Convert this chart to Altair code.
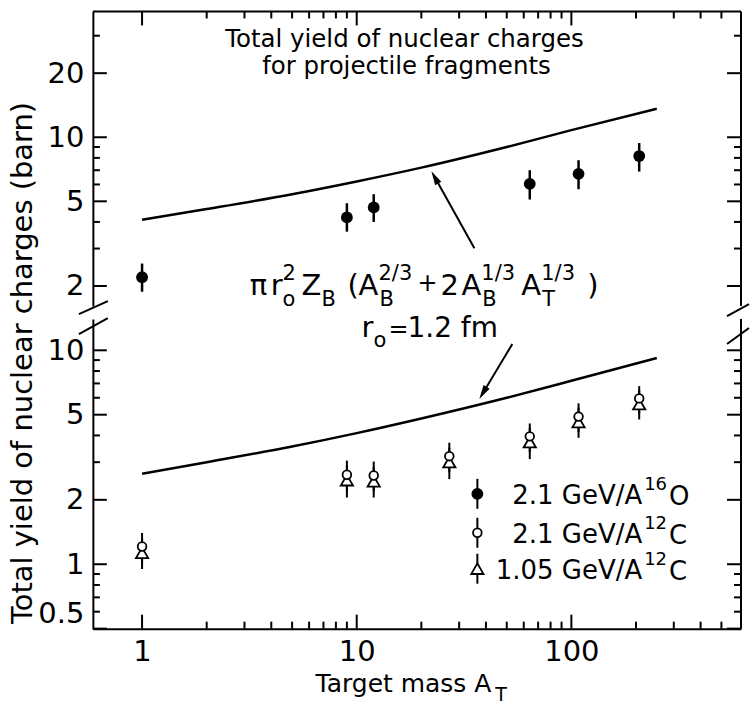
import altair as alt
import pandas as pd

FONT = "DejaVu Sans"

# ---------------- data ----------------
# 2.1 GeV/A 16O  (filled circles, upper panel)
at_16O = [1, 9, 12, 64, 108, 207]
y_16O = [2.2, 4.2, 4.68, 6.04, 6.73, 8.16]
lo_16O = [1.88, 3.6, 4.0, 5.1, 5.7, 6.9]
hi_16O = [2.55, 4.9, 5.4, 7.0, 7.8, 9.4]

# 12C targets (lower panel)
at_12C = [1, 9, 12, 27, 64, 108, 207]
# 2.1 GeV/A 12C (open circles)
y_12C_21 = [1.21, 2.62, 2.6, 3.2, 3.96, 4.9, 5.96]
lo_12C_21 = [1.0, 2.2, 2.2, 2.7, 3.35, 4.15, 5.05]
hi_12C_21 = [1.4, 3.05, 3.02, 3.7, 4.55, 5.65, 6.8]
# 1.05 GeV/A 12C (open triangles)
y_12C_105 = [1.13, 2.47, 2.44, 3.0, 3.72, 4.62, 5.6]
lo_12C_105 = [0.95, 2.05, 2.05, 2.5, 3.1, 3.9, 4.75]
hi_12C_105 = [1.32, 2.9, 2.85, 3.5, 4.35, 5.4, 6.5]

# geometric-model curves
curve_at = [1, 2, 5, 10, 20, 50, 100, 250]
curve_16O = [4.1, 4.6, 5.4, 6.2, 7.2, 9.0, 10.8, 13.6]
curve_12C = [2.65, 3.0, 3.55, 4.1, 4.8, 6.0, 7.2, 9.2]

# ticks
x_labels = [1, 10, 100]
x_minor = [2, 3, 4, 5, 6, 7, 8, 9, 20, 30, 40, 50, 60, 70, 80, 90, 200, 300, 400, 500]
up_labels = [2, 5, 10, 20]
up_minor = [3, 4, 6, 7, 8, 9, 30]
lo_labels = [0.5, 1, 2, 5, 10]
lo_minor = [0.6, 0.7, 0.8, 0.9, 3, 4, 6, 7, 8, 9]

# ---------------- layout ----------------
W, HU, HL = 649, 295, 310
OXU, OYU = 93, 10      # upper panel origin in page pixels
OXL, OYL = 93, 318     # lower panel origin
MAJ, MIN = 14, 7
LW = 2

xs = alt.Scale(type="log", domain=[0.59, 617], nice=False)
ysu = alt.Scale(type="log", domain=[1.61, 39], nice=False)
ysl = alt.Scale(type="log", domain=[0.5, 14], nice=False)

one = pd.DataFrame({"k": [0]})

lab = dict(labelFont=FONT, labelFontSize=29, labelColor="black")
dom = dict(domain=True, domainColor="black", domainWidth=LW, ticks=False, grid=False, title=None)
ax_bottom = alt.Axis(orient="bottom", values=x_labels, format="~g", labelPadding=9, **dom, **lab)
ax_left_u = alt.Axis(orient="left", values=up_labels, format="~g", labelPadding=9, **dom, **lab)
ax_left_l = alt.Axis(orient="left", values=lo_labels, format="~g", labelPadding=9,
                     labelFlush=True, **dom, **lab)


def XU(f):
    return alt.X(f, scale=xs, axis=None)


def YU(f):
    return alt.Y(f, scale=ysu, axis=ax_left_u)


def XL(f):
    return alt.X(f, scale=xs, axis=ax_bottom)


def YL(f):
    return alt.Y(f, scale=ysl, axis=ax_left_l)


def xticks(vals, length, H, top, Xf):
    df = pd.DataFrame({"v": vals})
    y0, y1 = (0, length) if top else (H, H - length)
    return alt.Chart(df).mark_rule(color="black", strokeWidth=LW).encode(
        x=Xf("v:Q"), y=alt.value(y0), y2=alt.value(y1))


def yticks(vals, length, left, Yf):
    df = pd.DataFrame({"v": vals})
    x0, x1 = (0, length) if left else (W, W - length)
    return alt.Chart(df).mark_rule(color="black", strokeWidth=LW).encode(
        y=Yf("v:Q"), x=alt.value(x0), x2=alt.value(x1))


def txt(s, x, y, size, align="left", baseline="alphabetic", angle=None):
    kw = dict(text=s, fontSize=size, font=FONT, align=align, baseline=baseline, color="black")
    if angle is not None:
        kw["angle"] = angle
    return alt.Chart(one).mark_text(**kw).encode(x=alt.value(x), y=alt.value(y))


def seg(x1, y1, x2, y2, w=LW):
    return alt.Chart(one).mark_rule(color="black", strokeWidth=w).encode(
        x=alt.value(x1), y=alt.value(y1), x2=alt.value(x2), y2=alt.value(y2))


ARROW = "M0,-1L0.5,1L-0.5,1Z"


def head(x, y, angle):
    return alt.Chart(one).mark_point(shape=ARROW, angle=angle, filled=True, color="black",
                                     opacity=1, size=200).encode(x=alt.value(x), y=alt.value(y))


# ---------------- upper panel ----------------
df16 = pd.DataFrame({"at": at_16O, "y": y_16O, "lo": lo_16O, "hi": hi_16O})
dfc16 = pd.DataFrame({"at": curve_at, "y": curve_16O})

up_layers = [
    seg(0, 0, W, 0), seg(W, 0, W, HU),
    xticks(x_labels, MAJ, HU, True, XU),
    xticks(x_minor, MIN, HU, True, XU),
    yticks(up_labels, MAJ, True, YU),
    yticks(up_minor, MIN, True, YU),
    yticks(up_labels, MAJ, False, YU),
    yticks(up_minor, MIN, False, YU),
    alt.Chart(dfc16).mark_line(color="black", strokeWidth=2.5, interpolate="monotone").encode(
        x=XU("at:Q"), y=YU("y:Q")),
    alt.Chart(df16).mark_rule(color="black", strokeWidth=2.5).encode(
        x=XU("at:Q"), y=YU("lo:Q"), y2="hi:Q"),
    alt.Chart(df16).mark_point(shape="circle", filled=True, color="black", opacity=1, size=140).encode(
        x=XU("at:Q"), y=YU("y:Q")),
]

# title
up_layers += [
    txt("Total yield of nuclear charges", 405 - OXU, 46 - OYU, 24.5, align="center"),
    txt("for projectile fragments", 407 - OXU, 73 - OYU, 24.5, align="center"),
]

# formula pieces: (text, x, baseline, size) in page pixels
M, S = 29, 21
formula = [
    ("π", 250, 294, M), ("r", 271, 294, M), ("2", 283, 279, S), ("o", 283, 305, S),
    ("Z", 302, 294, M), ("B", 322, 305, S), ("(", 348, 294, M), ("A", 359, 294, M),
    ("2/3", 379, 279, S), ("B", 380, 305, S), ("+", 418, 290, 24), ("2", 441, 294, M),
    ("A", 462, 294, M), ("1/3", 482, 279, S), ("B", 483, 305, S), ("A", 522, 294, M),
    ("1/3", 542, 279, S), ("T", 543, 305, S), (")", 588, 294, M),
    ("r", 362, 336, M), ("o", 374, 346, S), ("=", 389, 336, 24), ("1.2 fm", 408, 336, 28),
]
for s, x, y, size in formula:
    up_layers.append(txt(s, x - OXU, y - OYU, size))

# y-axis title (spans both panels)
up_layers.append(txt("Total yield of nuclear charges (barn)", 23 - OXU, 362 - OYU, 29,
                     align="center", baseline="middle", angle=270))

# upper arrow
up_layers += [seg(382, 237, 342.4, 166.1), head(342.4, 166.1, 331)]

# axis-break marks
up_layers += [
    seg(-14, 303, 15, 290), seg(-14, 323, 15, 307),
    seg(635, 305, 657, 293), seg(635, 333, 657, 317),
]

upper = alt.layer(*up_layers).properties(width=W, height=HU)

# ---------------- lower panel ----------------
dfa = pd.DataFrame({"at": at_12C, "y": y_12C_21, "lo": lo_12C_21, "hi": hi_12C_21})
dfb = pd.DataFrame({"at": at_12C, "y": y_12C_105, "lo": lo_12C_105, "hi": hi_12C_105})
dfc12 = pd.DataFrame({"at": curve_at, "y": curve_12C})

lo_layers = [
    seg(W, 0, W, HL),
    xticks(x_labels, MAJ, HL, False, XL),
    xticks(x_minor, MIN, HL, False, XL),
    yticks(lo_labels, MAJ, True, YL),
    yticks(lo_minor, MIN, True, YL),
    yticks(lo_labels, MAJ, False, YL),
    yticks(lo_minor, MIN, False, YL),
    alt.Chart(dfc12).mark_line(color="black", strokeWidth=2.5, interpolate="monotone").encode(
        x=XL("at:Q"), y=YL("y:Q")),
    alt.Chart(dfb).mark_rule(color="black", strokeWidth=2).encode(x=XL("at:Q"), y=YL("lo:Q"), y2="hi:Q"),
    alt.Chart(dfa).mark_rule(color="black", strokeWidth=2).encode(x=XL("at:Q"), y=YL("lo:Q"), y2="hi:Q"),
    alt.Chart(dfb).mark_point(shape="triangle-up", fill="white", stroke="black", strokeWidth=1.8,
                              opacity=1, fillOpacity=1, size=150).encode(x=XL("at:Q"), y=YL("y:Q")),
    alt.Chart(dfa).mark_point(shape="circle", fill="white", stroke="black", strokeWidth=1.8,
                              opacity=1, fillOpacity=1, size=75).encode(x=XL("at:Q"), y=YL("y:Q")),
]

# lower arrow
lo_layers += [seg(420, 25, 390.6, 74), head(390.6, 74, 211)]

# legend (page pixels converted to lower-panel pixels)
LX = 478 - OXL
rows = [
    (493, "2.1 GeV/A", "16", "O", "filled"),
    (532, "2.1 GeV/A", "12", "C", "circle"),
    (568, "1.05 GeV/A", "12", "C", "triangle"),
]
for yc, main, sup, el, kind in rows:
    y = yc - OYL
    lo_layers.append(seg(LX, y - 15, LX, y + 15))
    if kind == "filled":
        lo_layers.append(alt.Chart(one).mark_point(shape="circle", filled=True, color="black", opacity=1,
                                                   size=140).encode(x=alt.value(LX), y=alt.value(y)))
    elif kind == "circle":
        lo_layers.append(alt.Chart(one).mark_point(shape="circle", fill="white", stroke="black",
                                                   strokeWidth=1.8, opacity=1, fillOpacity=1, size=75)
                         .encode(x=alt.value(LX), y=alt.value(y)))
    else:
        lo_layers.append(alt.Chart(one).mark_point(shape="triangle-up", fill="white", stroke="black",
                                                   strokeWidth=1.8, opacity=1, fillOpacity=1, size=150)
                         .encode(x=alt.value(LX), y=alt.value(y)))
    lo_layers += [
        txt(main, 643 - OXL, y + 10, 26, align="right"),
        txt(sup, 645 - OXL, y - 4, 18),
        txt(el, 670 - OXL, y + 11, 26),
    ]

# x-axis title
lo_layers += [
    txt("Target mass A", 316 - OXL, 691 - OYL, 25),
    txt("T", 496 - OXL, 700 - OYL, 19),
]

lower = alt.layer(*lo_layers).properties(width=W, height=HL)

chart = (
    alt.vconcat(upper, lower, spacing=13, bounds="flush")
    .properties(padding={"left": 8, "top": 10, "right": 0, "bottom": 0}, background="white")
    .configure_view(stroke=None)
)

chart.save("out.html", embed_options={"renderer": "svg", "actions": False})
